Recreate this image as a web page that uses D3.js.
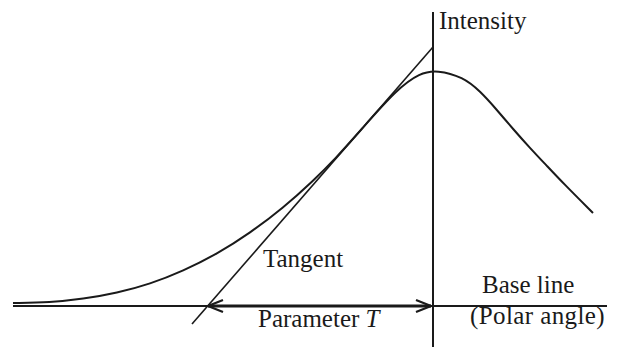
<html>
<head>
<script src="https://d3js.org/d3.v7.min.js"></script>
<style>
	body {
		margin: 0;
		background-color: white;
	}
	text {
		font-family: "Liberation Serif", "Times New Roman", serif;
		font-size: 25px;
		fill: #1a1a1a;
	}
</style>
</head>
<body>
<div id="chart"></div>
<script>
	var width = 620;
	var height = 347;

	// intensity curve, angle measured from the peak axis
	var angles = [-420,-383,-350,-316,-283,-250,-216,-183,-150,-120,-97,-73,-36,-13,4,30,47,64,80,97,114,130,160];
	var intensity = [3,3.5,7,13,22,35,52,73,98,125,148,175,217,233,236,229,215,196,177,158,140,123,93];

	// tangent at the inflection point
	var tangentAngles = [-241, 0];
	var tangentIntensity = [-18, 259];

	// parameter T: from tangent/base line crossing to the axis
	var paramT = [-225, -2];

	var baseRange = [-420, 174];
	var axisRange = [-41, 294];

	var x = d3.scaleLinear().domain([-433, 187]).range([0, width]);
	var y = d3.scaleLinear().domain([0, 306]).range([306, 0]);

	var svg = d3.select("#chart").append("svg")
			.attr("width", width)
			.attr("height", height)
			.attr("display", "block");

	var ink = "#1a1a1a";

	// base line
	svg.append("line")
		.attr("x1", x(baseRange[0])).attr("x2", x(baseRange[1]))
		.attr("y1", y(0)).attr("y2", y(0))
		.attr("stroke", ink).attr("stroke-width", 2);

	// intensity axis
	svg.append("line")
		.attr("x1", x(0)).attr("x2", x(0))
		.attr("y1", y(axisRange[1])).attr("y2", y(axisRange[0]))
		.attr("stroke", ink).attr("stroke-width", 2);

	// tangent
	svg.append("line")
		.attr("x1", x(tangentAngles[0])).attr("y1", y(tangentIntensity[0]))
		.attr("x2", x(tangentAngles[1])).attr("y2", y(tangentIntensity[1]))
		.attr("stroke", ink).attr("stroke-width", 1.6);

	// curve
	var pts = angles.map(function(a, i){ return [a, intensity[i]]; });
	var line = d3.line()
			.x(function(d){ return x(d[0]); })
			.y(function(d){ return y(d[1]); })
			.curve(d3.curveBasis);
	svg.append("path")
		.attr("d", line(pts))
		.attr("fill", "none")
		.attr("stroke", ink)
		.attr("stroke-width", 2);

	// double arrow for T
	var x1 = x(paramT[0]), x2 = x(paramT[1]), ya = y(0);
	svg.append("line")
		.attr("x1", x1).attr("x2", x2)
		.attr("y1", ya).attr("y2", ya)
		.attr("stroke", ink).attr("stroke-width", 3);
	svg.append("path")
		.attr("d", "M" + (x1 + 15) + "," + (ya - 6) + "L" + x1 + "," + ya + "L" + (x1 + 15) + "," + (ya + 6))
		.attr("fill", "none").attr("stroke", ink).attr("stroke-width", 2.2);
	svg.append("path")
		.attr("d", "M" + (x2 - 15) + "," + (ya - 6) + "L" + x2 + "," + ya + "L" + (x2 - 15) + "," + (ya + 6))
		.attr("fill", "none").attr("stroke", ink).attr("stroke-width", 2.2);

	// labels
	svg.append("text").attr("x", 439).attr("y", 29).text("Intensity");
	svg.append("text").attr("x", 263).attr("y", 267).text("Tangent");
	svg.append("text").attr("x", 482).attr("y", 293).text("Base line");
	svg.append("text").attr("x", 470).attr("y", 324).attr("letter-spacing", 0.4).text("(Polar angle)");
	var pt = svg.append("text").attr("x", 258).attr("y", 327);
	pt.append("tspan").text("Parameter ");
	pt.append("tspan").attr("font-style", "italic").text("T");
</script>
</body>
</html>
